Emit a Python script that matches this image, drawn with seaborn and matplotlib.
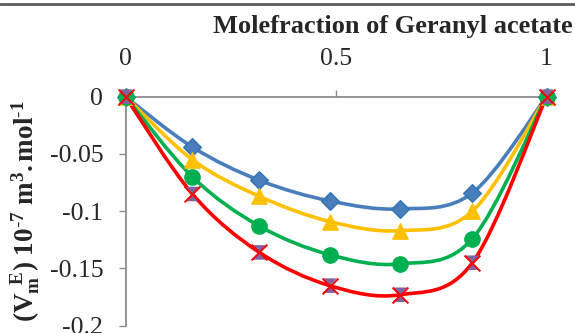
import numpy as np
import matplotlib
matplotlib.use("Agg")
import matplotlib.pyplot as plt
from matplotlib.path import Path
from matplotlib.patches import PathPatch
from matplotlib.lines import Line2D
import seaborn as sns
import pandas as pd

# ---- data ----
x_vals = [0, 0.159, 0.318, 0.485, 0.652, 0.824, 1]
blue_vals = [0, -0.044, -0.073, -0.091, -0.098, -0.084, 0]
yellow_vals = [0, -0.055, -0.087, -0.109, -0.117, -0.100, 0]
green_vals = [0, -0.070, -0.113, -0.138, -0.146, -0.124, 0]
red_vals = [0, -0.085, -0.136, -0.165, -0.173, -0.145, 0]
x_ticks = [0, 0.5, 1]
x_tick_labels = ["0", "0.5", "1"]
y_ticks = [0, -0.05, -0.1, -0.15, -0.2]
y_tick_labels = ["0", "-0.05", "-0.1", "-0.15", "-0.2"]

sns.set_theme(style="white")
plt.rcParams['font.family'] = ['Liberation Serif', 'DejaVu Serif']
plt.rcParams['mathtext.fontset'] = 'custom'
plt.rcParams['mathtext.rm'] = 'Liberation Serif'
plt.rcParams['mathtext.bf'] = 'Liberation Serif:bold'
plt.rcParams['mathtext.it'] = 'Liberation Serif:italic'

fig = plt.figure(figsize=(5.75, 3.33), dpi=100)
ax = fig.add_axes([125.5/575, (333-325.7)/333, (546.5-125.5)/575, (325.7-96.7)/333])


def smooth_path(xs, ys):
    pts = np.column_stack([xs, ys])
    n = len(pts)
    verts = [pts[0]]
    codes = [Path.MOVETO]
    for i in range(n - 1):
        p0 = pts[i - 1] if i > 0 else pts[i]
        p1 = pts[i]
        p2 = pts[i + 1]
        p3 = pts[i + 2] if i + 2 < n else pts[i + 1]
        c1 = p1 + (p2 - p0) / 6.0
        c2 = p2 - (p3 - p1) / 6.0
        verts += [c1, c2, p2]
        codes += [Path.CURVE4] * 3
    return Path(verts, codes)


series = [
    ("blue", blue_vals, "#4A7EBB", "D", "#4A7EBB", "#2E75B6", 9),
    ("yellow", yellow_vals, "#FFC000", "^", "#FFC000", "#FFC000", 11),
    ("green", green_vals, "#00B050", "o", "#00B050", "#00B050", 11),
    ("red", red_vals, "#FF0000", None, None, None, None),
]

for name, vals, col, mk, fc, ec, ms in series:
    ax.add_patch(PathPatch(smooth_path(x_vals, vals), facecolor='none',
                           edgecolor=col, lw=2.6, capstyle='round',
                           joinstyle='round', clip_on=False, zorder=2))

hourglass = Path([(-1, 1), (1, 1), (0, 0), (1, -1), (-1, -1), (0, 0), (-1, 1)],
                 [Path.MOVETO, Path.LINETO, Path.LINETO, Path.LINETO,
                  Path.LINETO, Path.LINETO, Path.CLOSEPOLY])

for name, vals, col, mk, fc, ec, ms in series:
    df = pd.DataFrame({"x": x_vals, "y": vals})
    if mk is not None:
        sns.scatterplot(data=df, x="x", y="y", marker=mk, s=ms**2,
                        color=fc, edgecolor=ec, linewidth=1.0, ax=ax,
                        clip_on=False, zorder=3)
    else:
        sns.scatterplot(data=df, x="x", y="y", marker=hourglass, s=110,
                        color="#8064A2", edgecolor="none", linewidth=0, ax=ax,
                        clip_on=False, zorder=3)
        sns.scatterplot(data=df, x="x", y="y", marker="x", s=130,
                        color="#FF0000", linewidth=1.4, ax=ax,
                        clip_on=False, zorder=4)

ax.set_xlim(0, 1)
ax.set_ylim(-0.2, 0)
ax.xaxis.tick_top()
ax.xaxis.set_label_position('top')
ax.set_xticks(x_ticks)
ax.set_xticklabels(x_tick_labels, fontsize=18.5)
ax.set_yticks(y_ticks)
ax.set_yticklabels(y_tick_labels, fontsize=18.5)
ax.tick_params(axis='x', which='both', top=True, bottom=False, direction='out',
               length=5, width=1, color='#8C8C8C', pad=14)
ax.tick_params(axis='y', which='both', left=True, direction='out',
               length=5, width=1, color='#8C8C8C', pad=11)
for s in ['bottom', 'right']:
    ax.spines[s].set_visible(False)
for s in ['top', 'left']:
    ax.spines[s].set_visible(True)
    ax.spines[s].set_color('#8C8C8C')
    ax.spines[s].set_linewidth(1.3)
ax.grid(False)
ax.set_xlabel("Molefraction of Geranyl acetate", fontsize=19, fontweight='bold')
ax.xaxis.set_label_coords(0.635, 1.0 + (96.7 - 27) / 229)
ax.xaxis.label.set_va('center')
ax.set_ylabel(r"$\mathbf{(V_m^{\ \ E})\ 10^{\text{-}7}\ m^3{.}mol^{\text{-}1}}$", fontsize=19.5)
ax.yaxis.set_label_coords(-(125.5 - 26) / 421, (325.7 - 211) / 229)
ax.yaxis.label.set_va('center')

fig.add_artist(Line2D([0, 1], [1 - 3.5/333, 1 - 3.5/333], color='#595959', lw=2.0))

fig.savefig("out.png", dpi=100)
